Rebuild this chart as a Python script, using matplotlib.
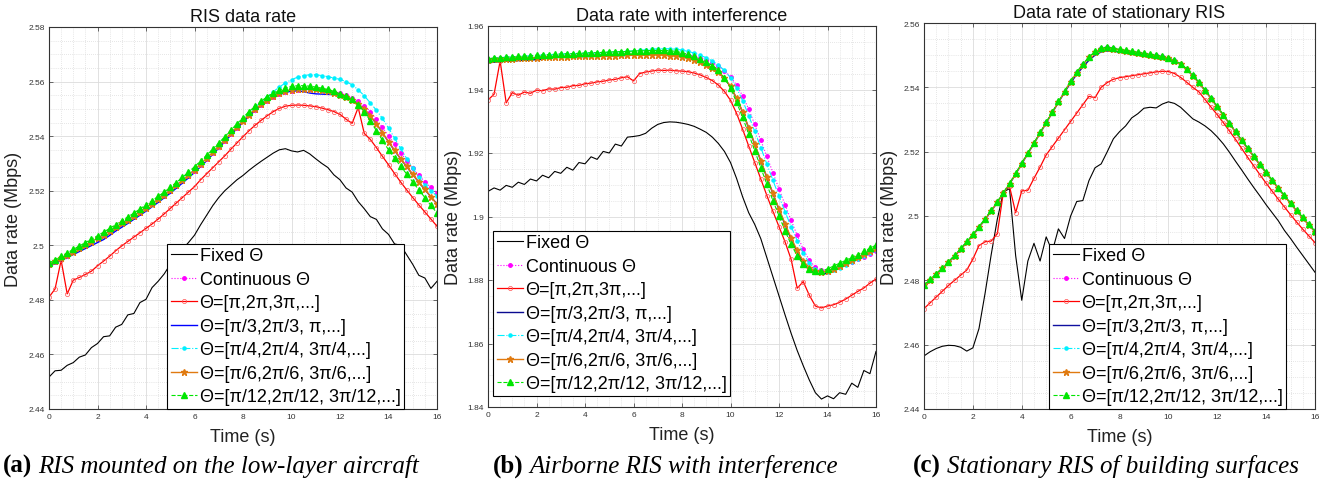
import numpy as np
import matplotlib
matplotlib.use("Agg")
import matplotlib.pyplot as plt
from matplotlib.ticker import MultipleLocator, FuncFormatter

plt.rcParams['font.family'] = ['Liberation Sans', 'DejaVu Sans']

# ---------------- data ----------------
time_s = np.arange(0, 16.001, 0.25)

labels = ['Fixed Θ', 'Continuous Θ', 'Θ=[π,2π,3π,...]', 'Θ=[π/3,2π/3, π,...]',
          'Θ=[π/4,2π/4, 3π/4,...]', 'Θ=[π/6,2π/6, 3π/6,...]', 'Θ=[π/12,2π/12, 3π/12,...]']

titles = ['RIS data rate', 'Data rate with interference', 'Data rate of stationary RIS']
captions_bold = ['(a)', '(b)', '(c)']
captions_it = ['RIS mounted on the low-layer aircraft', 'Airborne RIS with interference',
               'Stationary RIS of building surfaces']

# panel (a)
a_fixed = [2.4517, 2.4540, 2.4542, 2.4560, 2.4570, 2.4590, 2.4598, 2.4625, 2.4640, 2.4665, 2.4668, 2.4700, 2.4710,
           2.4745, 2.4750, 2.4790, 2.4802, 2.4845, 2.4868, 2.4895, 2.4930, 2.4955, 2.4985, 2.5010, 2.5037,
           2.5075, 2.5110, 2.5145, 2.5175, 2.5200, 2.5220, 2.5240, 2.5256, 2.5275, 2.5292, 2.5308, 2.5323,
           2.5338, 2.5350, 2.5354, 2.5346, 2.5342, 2.5348, 2.5335, 2.5317, 2.5300, 2.5285, 2.5258, 2.5240,
           2.5210, 2.5195, 2.5160, 2.5134, 2.5105, 2.5095, 2.5060, 2.5040, 2.5005, 2.5000, 2.4965, 2.4930,
           2.4890, 2.4880, 2.4842, 2.4868]
a_cont = [2.4927, 2.4938, 2.4950, 2.4962, 2.4974, 2.4986, 2.4998, 2.5010, 2.5023, 2.5036, 2.5049, 2.5063, 2.5077,
          2.5091, 2.5105, 2.5120, 2.5135, 2.5150, 2.5166, 2.5182, 2.5199, 2.5217, 2.5235, 2.5254, 2.5274,
          2.5295, 2.5316, 2.5338, 2.5361, 2.5384, 2.5408, 2.5431, 2.5454, 2.5476, 2.5496, 2.5514, 2.5530,
          2.5543, 2.5554, 2.5562, 2.5567, 2.5570, 2.5572, 2.5572, 2.5571, 2.5569, 2.5566, 2.5562, 2.5557,
          2.5550, 2.5540, 2.5528, 2.5512, 2.5490, 2.5462, 2.5432, 2.5401, 2.5370, 2.5340, 2.5310, 2.5282,
          2.5257, 2.5233, 2.5212, 2.5192]
a_pi = [2.4810, 2.4840, 2.4945, 2.4822, 2.4872, 2.4882, 2.4893, 2.4905, 2.4925, 2.4942, 2.4960, 2.4980, 2.4998,
        2.5014, 2.5030, 2.5046, 2.5062, 2.5078, 2.5096, 2.5115, 2.5135, 2.5155, 2.5175, 2.5195, 2.5215,
        2.5240, 2.5262, 2.5284, 2.5306, 2.5328, 2.5352, 2.5375, 2.5398, 2.5420, 2.5440, 2.5458, 2.5475,
        2.5490, 2.5502, 2.5510, 2.5513, 2.5514, 2.5513, 2.5511, 2.5508, 2.5503, 2.5497, 2.5490, 2.5480,
        2.5462, 2.5447, 2.5505, 2.5410, 2.5388, 2.5358, 2.5326, 2.5295, 2.5263, 2.5232, 2.5203, 2.5175,
        2.5148, 2.5122, 2.5096, 2.5070]
a_pi3 = [2.4922, 2.4933, 2.4944, 2.4955, 2.4966, 2.4977, 2.4988, 2.4999, 2.5010, 2.5021, 2.5036, 2.5052, 2.5066,
         2.5080, 2.5095, 2.5110, 2.5125, 2.5141, 2.5157, 2.5174, 2.5191, 2.5209, 2.5228, 2.5247, 2.5267,
         2.5288, 2.5310, 2.5333, 2.5356, 2.5380, 2.5404, 2.5428, 2.5451, 2.5473, 2.5494, 2.5512, 2.5528,
         2.5541, 2.5552, 2.5560, 2.5565, 2.5566, 2.5563, 2.5558, 2.5555, 2.5554, 2.5553, 2.5552, 2.5550,
         2.5543, 2.5533, 2.5518, 2.5499, 2.5474, 2.5445, 2.5412, 2.5379, 2.5347, 2.5317, 2.5288, 2.5259,
         2.5231, 2.5204, 2.5177, 2.5152]
a_pi4 = [2.4931, 2.4942, 2.4954, 2.4966, 2.4978, 2.4990, 2.5002, 2.5014, 2.5027, 2.5040, 2.5053, 2.5067, 2.5081,
         2.5095, 2.5109, 2.5124, 2.5139, 2.5154, 2.5170, 2.5186, 2.5203, 2.5221, 2.5239, 2.5258, 2.5278,
         2.5299, 2.5320, 2.5342, 2.5365, 2.5388, 2.5412, 2.5436, 2.5460, 2.5483, 2.5505, 2.5525, 2.5545,
         2.5563, 2.5580, 2.5595, 2.5607, 2.5616, 2.5622, 2.5625, 2.5625, 2.5622, 2.5618, 2.5613, 2.5608,
         2.5600, 2.5588, 2.5570, 2.5548, 2.5522, 2.5495, 2.5465, 2.5430, 2.5393, 2.5355, 2.5318, 2.5283,
         2.5250, 2.5220, 2.5200, 2.5180]
a_pi6 = [2.4930, 2.4941, 2.4953, 2.4965, 2.4977, 2.4989, 2.5001, 2.5013, 2.5026, 2.5039, 2.5052, 2.5066, 2.5080,
         2.5094, 2.5108, 2.5123, 2.5138, 2.5153, 2.5169, 2.5185, 2.5202, 2.5220, 2.5238, 2.5257, 2.5277,
         2.5298, 2.5319, 2.5341, 2.5364, 2.5387, 2.5411, 2.5434, 2.5457, 2.5479, 2.5499, 2.5517, 2.5533,
         2.5546, 2.5557, 2.5565, 2.5570, 2.5573, 2.5574, 2.5573, 2.5571, 2.5568, 2.5564, 2.5558, 2.5551,
         2.5543, 2.5533, 2.5518, 2.5500, 2.5475, 2.5446, 2.5413, 2.5380, 2.5348, 2.5318, 2.5289, 2.5260,
         2.5232, 2.5205, 2.5178, 2.5150]
a_pi12 = [2.4935, 2.4947, 2.4960, 2.4972, 2.4985, 2.4997, 2.5010, 2.5022, 2.5035, 2.5048, 2.5062, 2.5076, 2.5090,
          2.5104, 2.5118, 2.5133, 2.5148, 2.5163, 2.5179, 2.5195, 2.5212, 2.5230, 2.5249, 2.5268, 2.5288,
          2.5309, 2.5330, 2.5352, 2.5375, 2.5398, 2.5422, 2.5445, 2.5468, 2.5490, 2.5510, 2.5528, 2.5545,
          2.5558, 2.5569, 2.5577, 2.5582, 2.5585, 2.5585, 2.5583, 2.5580, 2.5576, 2.5571, 2.5564, 2.5555,
          2.5546, 2.5535, 2.5515, 2.5490, 2.5456, 2.5420, 2.5385, 2.5350, 2.5320, 2.5290, 2.5261, 2.5232,
          2.5203, 2.5175, 2.5146, 2.5118]

# panel (b)
b_fixed = [1.9079, 1.9090, 1.9083, 1.9098, 1.9092, 1.9108, 1.9101, 1.9118, 1.9112, 1.9130, 1.9122, 1.9142, 1.9136,
           1.9155, 1.9146, 1.9170, 1.9166, 1.9188, 1.9180, 1.9205, 1.9200, 1.9228, 1.9222, 1.9250, 1.9252,
           1.9255, 1.9262, 1.9278, 1.9290, 1.9296, 1.9298, 1.9297, 1.9294, 1.9290, 1.9284, 1.9275, 1.9265,
           1.9250, 1.9230, 1.9205, 1.9170, 1.9120, 1.9062, 1.9012, 1.8975, 1.8930, 1.8870, 1.8810, 1.8750,
           1.8690, 1.8632, 1.8578, 1.8530, 1.8485, 1.8445, 1.8425, 1.8435, 1.8426, 1.8445, 1.8440, 1.8475,
           1.8462, 1.8515, 1.8505, 1.8575]
b_cont = [1.9495, 1.9497, 1.9498, 1.9499, 1.9500, 1.9501, 1.9502, 1.9503, 1.9504, 1.9505, 1.9505, 1.9506, 1.9507,
          1.9507, 1.9508, 1.9508, 1.9509, 1.9509, 1.9510, 1.9510, 1.9511, 1.9511, 1.9512, 1.9512, 1.9513,
          1.9513, 1.9514, 1.9514, 1.9515, 1.9515, 1.9514, 1.9513, 1.9511, 1.9508, 1.9504, 1.9499, 1.9492,
          1.9484, 1.9473, 1.9459, 1.9440, 1.9414, 1.9380, 1.9338, 1.9290, 1.9240, 1.9189, 1.9138, 1.9087,
          1.9037, 1.8988, 1.8941, 1.8897, 1.8862, 1.8840, 1.8831, 1.8830, 1.8834, 1.8841, 1.8849, 1.8857,
          1.8865, 1.8873, 1.8882, 1.8890]
b_pi = [1.9367, 1.9385, 1.9490, 1.9358, 1.9390, 1.9382, 1.9392, 1.9388, 1.9398, 1.9396, 1.9402, 1.9401, 1.9406,
        1.9407, 1.9412, 1.9413, 1.9418, 1.9420, 1.9424, 1.9426, 1.9430, 1.9432, 1.9437, 1.9440, 1.9427,
        1.9450, 1.9455, 1.9458, 1.9461, 1.9460, 1.9461, 1.9459, 1.9458, 1.9456, 1.9452, 1.9446, 1.9438,
        1.9428, 1.9414, 1.9394, 1.9366, 1.9325, 1.9275, 1.9222, 1.9170, 1.9118, 1.9066, 1.9016, 1.8968,
        1.8920, 1.8865, 1.8774, 1.8795, 1.8752, 1.8718, 1.8712, 1.8718, 1.8722, 1.8730, 1.8740, 1.8752,
        1.8764, 1.8775, 1.8790, 1.8803]
b_pi3 = [1.9484, 1.9486, 1.9488, 1.9489, 1.9490, 1.9491, 1.9492, 1.9493, 1.9494, 1.9495, 1.9501, 1.9501, 1.9502,
         1.9502, 1.9503, 1.9503, 1.9504, 1.9504, 1.9505, 1.9505, 1.9506, 1.9506, 1.9507, 1.9507, 1.9508,
         1.9509, 1.9510, 1.9511, 1.9512, 1.9512, 1.9511, 1.9509, 1.9505, 1.9500, 1.9494, 1.9487, 1.9478,
         1.9467, 1.9454, 1.9435, 1.9409, 1.9372, 1.9329, 1.9279, 1.9227, 1.9175, 1.9123, 1.9072, 1.9022,
         1.8974, 1.8929, 1.8888, 1.8854, 1.8832, 1.8821, 1.8818, 1.8821, 1.8829, 1.8838, 1.8847, 1.8856,
         1.8865, 1.8874, 1.8884, 1.8893]
b_pi4 = [1.9496, 1.9498, 1.9499, 1.9501, 1.9502, 1.9503, 1.9504, 1.9506, 1.9507, 1.9508, 1.9509, 1.9510, 1.9511,
         1.9512, 1.9512, 1.9513, 1.9514, 1.9515, 1.9515, 1.9516, 1.9517, 1.9518, 1.9519, 1.9520, 1.9522,
         1.9523, 1.9525, 1.9527, 1.9528, 1.9529, 1.9528, 1.9527, 1.9524, 1.9520, 1.9515, 1.9508, 1.9500,
         1.9490, 1.9477, 1.9460, 1.9437, 1.9405, 1.9365, 1.9318, 1.9268, 1.9217, 1.9165, 1.9114, 1.9064,
         1.9015, 1.8968, 1.8924, 1.8884, 1.8853, 1.8834, 1.8826, 1.8826, 1.8831, 1.8839, 1.8848, 1.8857,
         1.8866, 1.8875, 1.8884, 1.8893]
b_pi6 = [1.9494, 1.9495, 1.9496, 1.9497, 1.9497, 1.9498, 1.9499, 1.9499, 1.9500, 1.9501, 1.9501, 1.9502, 1.9503,
         1.9503, 1.9504, 1.9504, 1.9505, 1.9505, 1.9506, 1.9506, 1.9507, 1.9507, 1.9508, 1.9508, 1.9508,
         1.9509, 1.9509, 1.9509, 1.9509, 1.9508, 1.9507, 1.9505, 1.9502, 1.9498, 1.9493, 1.9486, 1.9478,
         1.9468, 1.9455, 1.9436, 1.9410, 1.9373, 1.9330, 1.9280, 1.9228, 1.9176, 1.9124, 1.9073, 1.9024,
         1.8977, 1.8933, 1.8893, 1.8860, 1.8839, 1.8828, 1.8824, 1.8827, 1.8835, 1.8844, 1.8853, 1.8862,
         1.8871, 1.8881, 1.8891, 1.8902]
b_pi12 = [1.9497, 1.9499, 1.9500, 1.9502, 1.9503, 1.9504, 1.9505, 1.9507, 1.9508, 1.9509, 1.9510, 1.9511, 1.9512,
          1.9513, 1.9513, 1.9514, 1.9515, 1.9516, 1.9516, 1.9517, 1.9518, 1.9519, 1.9519, 1.9520, 1.9521,
          1.9522, 1.9522, 1.9523, 1.9523, 1.9523, 1.9522, 1.9520, 1.9516, 1.9511, 1.9504, 1.9496, 1.9487,
          1.9475, 1.9460, 1.9436, 1.9405, 1.9360, 1.9312, 1.9260, 1.9207, 1.9154, 1.9101, 1.9050, 1.9002,
          1.8955, 1.8912, 1.8876, 1.8850, 1.8836, 1.8829, 1.8828, 1.8835, 1.8844, 1.8853, 1.8862, 1.8871,
          1.8880, 1.8890, 1.8900, 1.8910]

# panel (c)
c_fixed = [2.4565, 2.4578, 2.4588, 2.4595, 2.4598, 2.4597, 2.4592, 2.4580, 2.4590, 2.4650, 2.4760, 2.4880, 2.4990,
           2.5075, 2.5085, 2.4877, 2.4738, 2.4860, 2.4915, 2.4860, 2.4935, 2.4890, 2.4960, 2.4930, 2.5000,
           2.5045, 2.5048, 2.5110, 2.5150, 2.5162, 2.5200, 2.5240, 2.5262, 2.5280, 2.5305, 2.5318, 2.5335,
           2.5338, 2.5336, 2.5348, 2.5355, 2.5350, 2.5338, 2.5320, 2.5302, 2.5292, 2.5280, 2.5265, 2.5246,
           2.5224, 2.5198, 2.5170, 2.5143, 2.5115, 2.5088, 2.5062, 2.5035, 2.5010, 2.4985, 2.4955, 2.4930,
           2.4903, 2.4877, 2.4851, 2.4825]
c_cont = [2.4785, 2.4802, 2.4820, 2.4838, 2.4857, 2.4877, 2.4898, 2.4920, 2.4942, 2.4966, 2.4991, 2.5017, 2.5044,
          2.5072, 2.5101, 2.5132, 2.5164, 2.5196, 2.5227, 2.5259, 2.5291, 2.5323, 2.5355, 2.5387, 2.5419,
          2.5447, 2.5471, 2.5494, 2.5511, 2.5521, 2.5524, 2.5521, 2.5517, 2.5514, 2.5511, 2.5508, 2.5505,
          2.5502, 2.5499, 2.5496, 2.5491, 2.5484, 2.5473, 2.5457, 2.5437, 2.5415, 2.5391, 2.5366, 2.5340,
          2.5314, 2.5288, 2.5262, 2.5236, 2.5210, 2.5185, 2.5160, 2.5135, 2.5111, 2.5087, 2.5063, 2.5040,
          2.5017, 2.4995, 2.4973, 2.4952]
c_pi = [2.4712, 2.4730, 2.4748, 2.4766, 2.4784, 2.4800, 2.4816, 2.4832, 2.4866, 2.4908, 2.4920, 2.4922, 2.4945,
        2.5075, 2.5092, 2.5010, 2.5078, 2.5080, 2.5117, 2.5152, 2.5190, 2.5216, 2.5242, 2.5268, 2.5294,
        2.5320, 2.5346, 2.5372, 2.5368, 2.5400, 2.5415, 2.5425, 2.5430, 2.5433, 2.5436, 2.5439, 2.5442,
        2.5445, 2.5448, 2.5450, 2.5449, 2.5443, 2.5431, 2.5416, 2.5400, 2.5386, 2.5362, 2.5338, 2.5315,
        2.5290, 2.5264, 2.5238, 2.5210, 2.5182, 2.5155, 2.5128, 2.5102, 2.5077, 2.5052, 2.5028, 2.5004,
        2.4981, 2.4959, 2.4938, 2.4917]
c_pi3 = [2.4783, 2.4800, 2.4818, 2.4836, 2.4855, 2.4875, 2.4896, 2.4918, 2.4940, 2.4964, 2.4989, 2.5015, 2.5042,
         2.5070, 2.5099, 2.5130, 2.5162, 2.5194, 2.5225, 2.5257, 2.5289, 2.5321, 2.5353, 2.5384, 2.5414,
         2.5440, 2.5463, 2.5484, 2.5500, 2.5510, 2.5513, 2.5512, 2.5510, 2.5508, 2.5506, 2.5504, 2.5502,
         2.5499, 2.5497, 2.5494, 2.5490, 2.5483, 2.5472, 2.5456, 2.5436, 2.5414, 2.5390, 2.5365, 2.5339,
         2.5313, 2.5287, 2.5261, 2.5235, 2.5209, 2.5184, 2.5159, 2.5134, 2.5110, 2.5086, 2.5062, 2.5039,
         2.5016, 2.4994, 2.4972, 2.4951]
c_pi4 = [2.4785, 2.4802, 2.4820, 2.4838, 2.4857, 2.4877, 2.4898, 2.4920, 2.4942, 2.4966, 2.4991, 2.5017, 2.5044,
         2.5072, 2.5101, 2.5132, 2.5164, 2.5196, 2.5227, 2.5259, 2.5291, 2.5323, 2.5355, 2.5387, 2.5419,
         2.5447, 2.5471, 2.5494, 2.5511, 2.5521, 2.5524, 2.5521, 2.5517, 2.5514, 2.5511, 2.5508, 2.5505,
         2.5502, 2.5499, 2.5496, 2.5491, 2.5484, 2.5473, 2.5457, 2.5437, 2.5415, 2.5391, 2.5366, 2.5340,
         2.5314, 2.5288, 2.5262, 2.5236, 2.5210, 2.5185, 2.5160, 2.5135, 2.5111, 2.5087, 2.5063, 2.5040,
         2.5017, 2.4995, 2.4973, 2.4952]
c_pi6 = [2.4784, 2.4801, 2.4819, 2.4837, 2.4856, 2.4876, 2.4897, 2.4919, 2.4941, 2.4965, 2.4990, 2.5016, 2.5043,
         2.5071, 2.5100, 2.5131, 2.5163, 2.5195, 2.5226, 2.5258, 2.5290, 2.5322, 2.5354, 2.5386, 2.5418,
         2.5446, 2.5470, 2.5493, 2.5510, 2.5520, 2.5523, 2.5520, 2.5516, 2.5513, 2.5510, 2.5507, 2.5504,
         2.5501, 2.5498, 2.5495, 2.5490, 2.5483, 2.5472, 2.5456, 2.5436, 2.5414, 2.5390, 2.5365, 2.5339,
         2.5313, 2.5287, 2.5261, 2.5235, 2.5209, 2.5184, 2.5159, 2.5134, 2.5110, 2.5086, 2.5062, 2.5039,
         2.5016, 2.4994, 2.4972, 2.4951]
c_pi12 = [2.4786, 2.4803, 2.4821, 2.4839, 2.4858, 2.4878, 2.4899, 2.4921, 2.4943, 2.4967, 2.4992, 2.5018, 2.5045,
          2.5073, 2.5102, 2.5133, 2.5165, 2.5197, 2.5228, 2.5260, 2.5292, 2.5324, 2.5356, 2.5388, 2.5420,
          2.5448, 2.5472, 2.5495, 2.5512, 2.5522, 2.5525, 2.5522, 2.5518, 2.5515, 2.5512, 2.5509, 2.5506,
          2.5503, 2.5500, 2.5497, 2.5492, 2.5485, 2.5474, 2.5458, 2.5438, 2.5416, 2.5392, 2.5367, 2.5341,
          2.5315, 2.5289, 2.5263, 2.5237, 2.5211, 2.5186, 2.5161, 2.5136, 2.5112, 2.5088, 2.5064, 2.5041,
          2.5018, 2.4996, 2.4974, 2.4953]

panels = [
    [a_fixed, a_cont, a_pi, a_pi3, a_pi4, a_pi6, a_pi12],
    [b_fixed, b_cont, b_pi, b_pi3, b_pi4, b_pi6, b_pi12],
    [c_fixed, c_cont, c_pi, c_pi3, c_pi4, c_pi6, c_pi12],
]
ylims = [(2.44, 2.58), (1.84, 1.96), (2.44, 2.56)]

# ---------------- styling / layout ----------------
W, H = 1337, 485
fig = plt.figure(figsize=(W / 100, H / 100), dpi=100)

# axes boxes in pixels: left, top, right, bottom
boxes = [(49, 28, 437, 410), (488, 27, 876, 408), (924, 24, 1315, 410)]
blue_cols = ['#0000FF', '#0A0A90', '#1010A0']
legend_loc = [('lower right', (0.915, 0.0)), ('lower left', (0.013, 0.029)), ('lower right', (0.926, 0.0))]
ylab_x = [-0.070, -0.067, -0.066]
cap_left = [3, 493, 913]

styles = [
    dict(color='black', ls='-', lw=0.8),
    dict(color='#FF00FF', ls=':', lw=0.8, marker='.', ms=5),
    dict(color='#FF0000', ls='-', lw=0.9, marker='o', ms=3, mfc='none', mec='#FF5050', mew=0.5),
    dict(color='#0000FF', ls='-', lw=1.0),
    dict(color='#00F0FF', ls='-.', lw=0.8, marker='.', ms=4.5),
    dict(color='#E07A10', ls='-', lw=1.0, marker='*', ms=5),
    dict(color='#00E600', ls='--', lw=0.8, marker='^', ms=3.8, mfc='#00E600', mec='#00E600'),
]

fmt = FuncFormatter(lambda v, p: f'{v:g}')
cap_y = (H - 473) / H

for i in range(3):
    l, t, r, b = boxes[i]
    ax = fig.add_axes([l / W, (H - b) / H, (r - l) / W, (b - t) / H])
    for k, series in enumerate(panels[i]):
        st = dict(styles[k])
        if k == 3:
            st['color'] = blue_cols[i]
        ax.plot(time_s, series, label=labels[k], **st)
    ax.set_xlim(0, 16)
    ax.set_ylim(*ylims[i])
    ax.xaxis.set_major_locator(MultipleLocator(2))
    ax.xaxis.set_minor_locator(MultipleLocator(0.5))
    ax.yaxis.set_major_locator(MultipleLocator(0.02))
    ax.yaxis.set_minor_locator(MultipleLocator(0.005))
    ax.yaxis.set_major_formatter(fmt)
    ax.grid(which='major', color='#dcdcdc', lw=0.6, ls='-')
    ax.grid(which='minor', color='#cfcfcf', lw=0.5, ls=(0, (1, 2)))
    ax.set_axisbelow(True)
    ax.tick_params(which='major', direction='in', top=True, right=True, length=3, width=0.5,
                   labelsize=6, labelcolor='#333333', color='#333333', pad=3)
    ax.tick_params(which='minor', length=0)
    for sp in ax.spines.values():
        sp.set_linewidth(0.8)
        sp.set_color('#333333')
    ax.set_title(titles[i], fontsize=13, pad=4, color='#111111')
    ax.set_xlabel('Time (s)', fontsize=13, color='#222222')
    ax.xaxis.set_label_coords(0.5, -0.05)
    ax.set_ylabel('Data rate (Mbps)', fontsize=13, color='#222222')
    ax.yaxis.set_label_coords(ylab_x[i], 0.5)
    loc, anchor = legend_loc[i]
    leg = ax.legend(loc=loc, bbox_to_anchor=anchor, prop={'family': 'Liberation Sans', 'size': 13},
                    frameon=True, fancybox=False, framealpha=1, edgecolor='black',
                    handlelength=1.45, handletextpad=0.15, borderpad=0.2, labelspacing=0.36,
                    borderaxespad=0.0)
    leg.get_frame().set_linewidth(0.8)

# captions: bold label followed by italic text
fig.canvas.draw()
renderer = fig.canvas.get_renderer()
for i in range(3):
    t1 = fig.text(cap_left[i] / W, cap_y, captions_bold[i], fontsize=18, fontweight='bold',
                  family='Liberation Serif', va='baseline', ha='left')
    bb = t1.get_window_extent(renderer=renderer)
    fig.text((bb.x1 + 6) / W, cap_y, captions_it[i], fontsize=18, fontstyle='italic',
             family='Liberation Serif', va='baseline', ha='left')

fig.savefig('out.png', dpi=100)
